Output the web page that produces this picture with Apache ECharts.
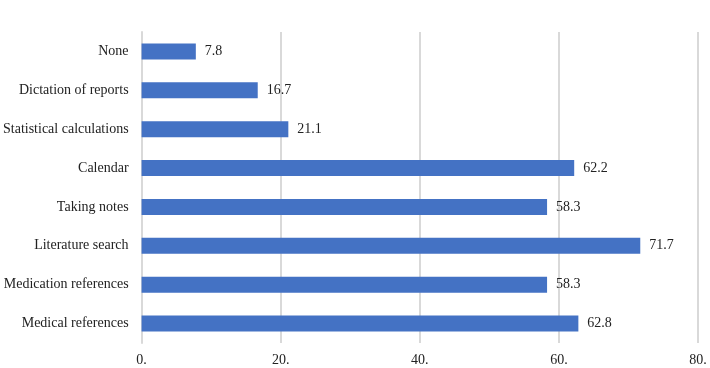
<!DOCTYPE html>
<html><head><meta charset="utf-8">
<script src="https://cdn.jsdelivr.net/npm/echarts@6/dist/echarts.min.js"></script>
<style>html,body{margin:0;padding:0;background:#fff}#c{width:710px;height:368px}</style>
</head><body><div id="c"></div>
<script>
const categories = ["Medical references","Medication references","Literature search","Taking notes","Calendar","Statistical calculations","Dictation of reports","None"];
const values = [62.8, 58.3, 71.7, 58.3, 62.2, 21.1, 16.7, 7.8];
const xTicks = [0, 20, 40, 60, 80];
const font = "'Liberation Serif','Times New Roman',serif";
const chart = echarts.init(document.getElementById('c'));
chart.setOption({
  animation: false,
  grid: {left: 140, right: 12, top: 32, bottom: 25, containLabel: false},
  xAxis: {
    type: 'value', min: xTicks[0], max: xTicks[xTicks.length-1], interval: 20,
    axisLine: {show: false}, axisTick: {show: false},
    splitLine: {show: true, lineStyle: {color: '#d9d9d9', width: 2}},
    axisLabel: {formatter: v => v + '.', fontFamily: font, fontSize: 14, color: '#222', margin: 10}
  },
  yAxis: {
    type: 'category', data: categories,
    axisLine: {show: true, lineStyle: {color: '#d9d9d9', width: 2}},
    axisTick: {show: false},
    axisLabel: {fontFamily: font, fontSize: 14, color: '#222', margin: 13}
  },
  series: [{
    type: 'bar', data: values, barWidth: 16,
    itemStyle: {color: '#4472C4'},
    label: {show: true, position: 'right', distance: 9, fontFamily: font, fontSize: 14, color: '#222'}
  }]
});
</script></body></html>
